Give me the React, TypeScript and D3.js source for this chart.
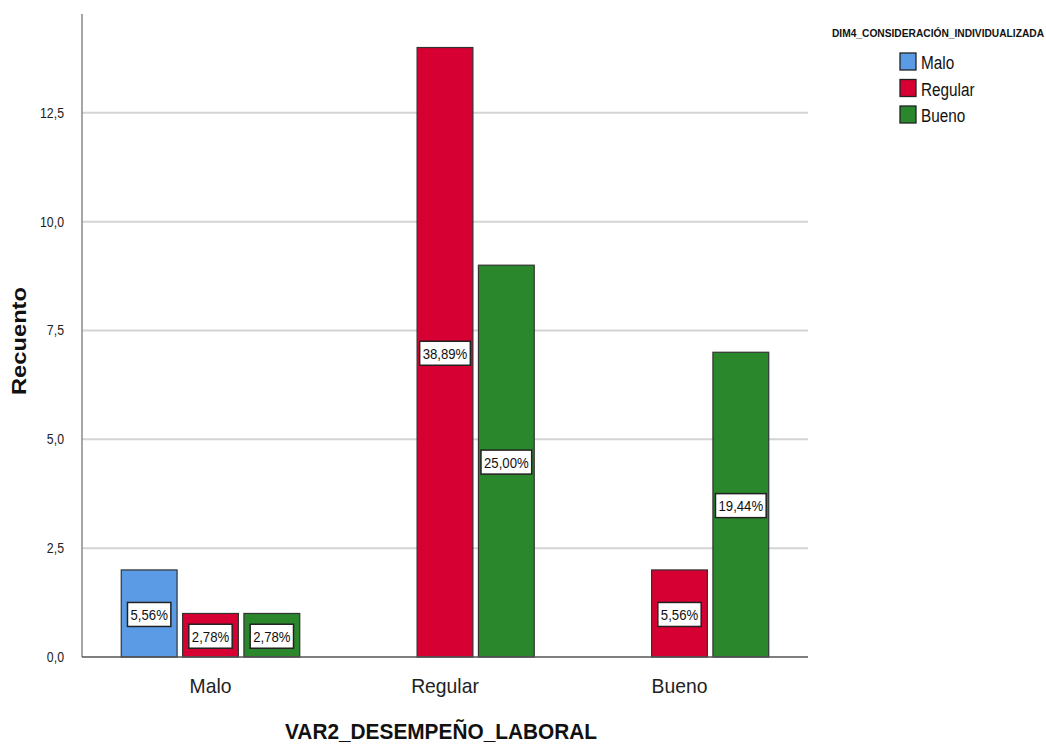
import React, { useEffect, useRef } from "react";
import * as d3 from "d3";

const categories = ["Malo", "Regular", "Bueno"];
const seriesNames = ["Malo", "Regular", "Bueno"];
const seriesColors = ["#5b9be6", "#d60032", "#2a872b"];
// counts[series][category]
const malo = [2, 0, 0];
const regular = [1, 14, 2];
const bueno = [1, 9, 7];
const pctMalo = ["5,56%", "", ""];
const pctRegular = ["2,78%", "38,89%", "5,56%"];
const pctBueno = ["2,78%", "25,00%", "19,44%"];
const yTicks = [0, 2.5, 5, 7.5, 10, 12.5];
const yTickLabels = ["0,0", "2,5", "5,0", "7,5", "10,0", "12,5"];

const FONT = "'Liberation Sans', Arial, sans-serif";

function condense(t: d3.Selection<SVGTextElement, any, any, any>, f: number) {
  const w = (t.node() as SVGTextElement).getComputedTextLength();
  t.attr("textLength", w * f).attr("lengthAdjust", "spacingAndGlyphs");
  return w * f;
}

export default function App() {
  const ref = useRef<SVGSVGElement>(null);

  useEffect(() => {
    const svg = d3.select(ref.current);
    svg.selectAll("*").remove();

    const left = 82, right = 808, top = 14, bottom = 657;
    const y = d3.scaleLinear().domain([0, 14.77]).range([bottom, top]);
    const x = d3.scalePoint<string>().domain(categories).range([left, right]).padding(0.548);
    const inner = d3.scaleBand<string>().domain(seriesNames).range([-92, 92]).paddingInner(0.09).paddingOuter(0.045);

    // gridlines
    svg.append("g").selectAll("line").data(yTicks.filter(t => t > 0)).join("line")
      .attr("x1", left).attr("x2", right)
      .attr("y1", d => y(d)).attr("y2", d => y(d))
      .attr("stroke", "#d4d4d4").attr("stroke-width", 2);

    // y tick labels
    svg.append("g").selectAll("text").data(yTicks).join("text")
      .attr("x", 64).attr("y", d => y(d) + 5)
      .attr("text-anchor", "end")
      .attr("font-family", FONT).attr("font-size", 14).attr("fill", "#222")
      .text((d, i) => yTickLabels[i])
      .each(function () { condense(d3.select(this as SVGTextElement), 0.88); });

    const values = [malo, regular, bueno];
    const pcts = [pctMalo, pctRegular, pctBueno];

    const bars: { s: number; c: number; v: number; p: string }[] = [];
    values.forEach((arr, s) => arr.forEach((v, c) => { if (v > 0) bars.push({ s, c, v, p: pcts[s][c] }); }));

    const bx = (d: { s: number; c: number }) => (x(categories[d.c]) as number) + (inner(seriesNames[d.s]) as number);

    svg.append("g").selectAll("rect").data(bars).join("rect")
      .attr("x", d => bx(d))
      .attr("y", d => y(d.v))
      .attr("width", inner.bandwidth())
      .attr("height", d => y(0) - y(d.v))
      .attr("fill", d => seriesColors[d.s])
      .attr("stroke", "#333").attr("stroke-width", 1.2);

    // axes lines
    svg.append("line").attr("x1", left).attr("x2", left).attr("y1", top).attr("y2", bottom)
      .attr("stroke", "#888").attr("stroke-width", 1.5);
    svg.append("line").attr("x1", left).attr("x2", right).attr("y1", bottom).attr("y2", bottom)
      .attr("stroke", "#555").attr("stroke-width", 1.5);

    // value labels
    const lg = svg.append("g");
    bars.forEach(d => {
      const cx = bx(d) + inner.bandwidth() / 2;
      const cy = y(d.v / 2) + 1;
      const g = lg.append("g");
      const rect = g.append("rect").attr("fill", "#fff").attr("stroke", "#222").attr("stroke-width", 1.5);
      const t = g.append("text").attr("x", cx).attr("y", cy + 5.5)
        .attr("text-anchor", "middle").attr("font-family", FONT).attr("font-size", 15.5).attr("fill", "#111")
        .text(d.p);
      const w = condense(t, 0.85);
      rect.attr("x", cx - w / 2 - 3).attr("y", cy - 12).attr("width", w + 6).attr("height", 24);
    });

    // x tick labels
    svg.append("g").selectAll("text").data(categories).join("text")
      .attr("x", d => x(d) as number).attr("y", 693)
      .attr("text-anchor", "middle").attr("font-family", FONT).attr("font-size", 21).attr("fill", "#222")
      .text(d => d)
      .each(function () { condense(d3.select(this as SVGTextElement), 0.92); });

    // x title
    svg.append("text").attr("x", 441).attr("y", 739).attr("text-anchor", "middle")
      .attr("font-family", FONT).attr("font-size", 22).attr("font-weight", "bold").attr("fill", "#111")
      .attr("textLength", 312).attr("lengthAdjust", "spacingAndGlyphs")
      .text("VAR2_DESEMPEÑO_LABORAL");

    // y title
    svg.append("text").attr("transform", "translate(26,341) rotate(-90)").attr("text-anchor", "middle")
      .attr("font-family", FONT).attr("font-size", 20).attr("font-weight", "bold").attr("fill", "#111")
      .attr("textLength", 108).attr("lengthAdjust", "spacingAndGlyphs")
      .text("Recuento");

    // legend
    svg.append("text").attr("x", 832).attr("y", 37)
      .attr("font-family", FONT).attr("font-size", 10).attr("font-weight", "bold").attr("fill", "#111")
      .attr("textLength", 212).attr("lengthAdjust", "spacingAndGlyphs")
      .text("DIM4_CONSIDERACIÓN_INDIVIDUALIZADA");
    const leg = svg.append("g").selectAll("g").data(seriesNames).join("g")
      .attr("transform", (d, i) => `translate(900,${53 + i * 26.5})`);
    leg.append("rect").attr("width", 16).attr("height", 17)
      .attr("fill", (d, i) => seriesColors[i]).attr("stroke", "#222").attr("stroke-width", 1.3);
    leg.append("text").attr("x", 21).attr("y", 16)
      .attr("font-family", FONT).attr("font-size", 18).attr("fill", "#111")
      .text(d => d)
      .each(function () { condense(d3.select(this as SVGTextElement), 0.85); });
  }, []);

  return (
    <svg ref={ref} width={1046} height={747}
      style={{ position: "absolute", left: 0, top: 0, background: "#fff" }} />
  );
}
